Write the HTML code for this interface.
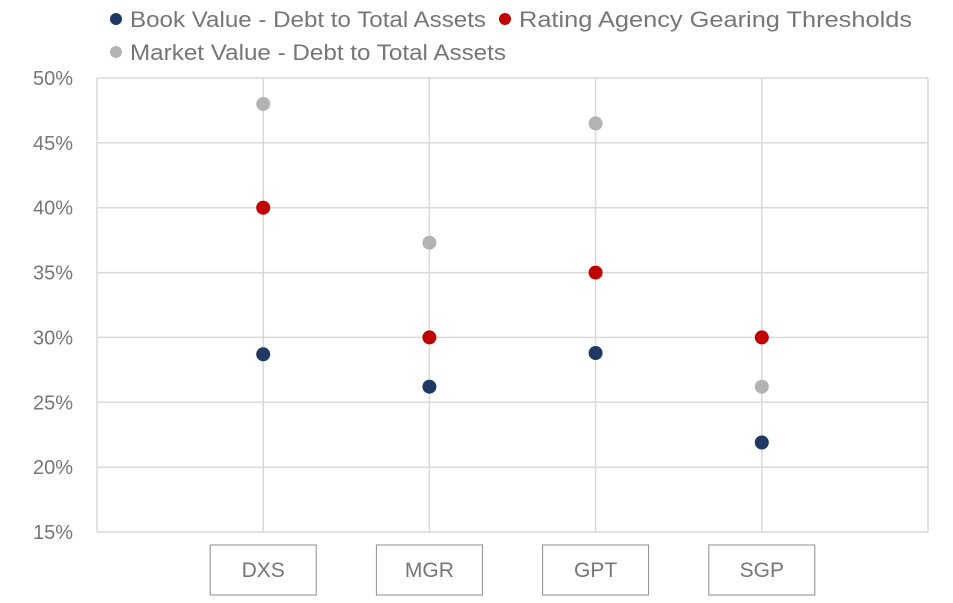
<!DOCTYPE html>
<html><head><meta charset="utf-8"><style>
body{margin:0;background:#fff;font-family:"Liberation Sans",sans-serif}
svg text{font-family:"Liberation Sans",sans-serif;fill:#767676}
</style></head><body>
<svg id="c" width="953" height="598" viewBox="0 0 953 598"></svg>
<script>
const categories=["DXS","MGR","GPT","SGP"];
const bookValues=[28.7,26.2,28.8,21.9];
const ratingThresholds=[40,30,35,30];
const marketValues=[48.0,37.3,46.5,26.2];
const yTicks=[15,20,25,30,35,40,45,50];
const seriesNames=["Book Value - Debt to Total Assets","Rating Agency Gearing Thresholds","Market Value - Debt to Total Assets"];
const NS="http://www.w3.org/2000/svg",svg=document.getElementById('c');
const L=97,R=928,T=78,B=532;
const y=v=>B-(v-15)/35*(B-T);
const x=i=>L+(i+1)*(R-L)/(categories.length+1);
function mk(t,a){const e=document.createElementNS(NS,t);for(const k in a)e.setAttribute(k,a[k]);svg.appendChild(e);return e;}
yTicks.forEach(v=>{
 const g=mk('line',{x1:L,x2:R,y1:y(v),y2:y(v),stroke:'#d9d9d9','stroke-width':1.5});
 
 
 const t=mk('text',{x:73,y:y(v)+7,'font-size':20,'text-anchor':'end'});t.textContent=v+'%';
 
 
});
[L,R].forEach(xx=>{const g=mk('line',{x1:xx,x2:xx,y1:T,y2:B,stroke:'#d9d9d9','stroke-width':1.5});
 
 });
categories.forEach((c,i)=>{
 const g=mk('line',{x1:x(i),x2:x(i),y1:T,y2:B,stroke:'#d9d9d9','stroke-width':1.5});
 
 
 const r=mk('rect',{x:x(i)-53,y:545,width:106,height:50,fill:'#fff',stroke:'#8c8c8c','stroke-width':1});
 
 
 const t=mk('text',{x:x(i),y:577,'font-size':21,'text-anchor':'middle'});t.textContent=c;
 
 
});
const series=[[marketValues,'#b3b3b3','market'],[ratingThresholds,'#c00000','rating'],[bookValues,'#1f3864','book']];
series.forEach(([vals,col,n])=>vals.forEach((v,i)=>{
 const p=mk('circle',{cx:x(i),cy:y(v),r:7,fill:col});
 
 
}));
const leg=[[116,19,'#1f3864',0,356],[505,19,'#c00000',1,393],[116,52,'#b3b3b3',2,376]];
leg.forEach(([lx,ly,col,k,w])=>{
 const m=mk('circle',{cx:lx,cy:ly,r:6,fill:col});
 
 
 const t=mk('text',{x:lx+14,y:ly+8,'font-size':22,textLength:w,lengthAdjust:'spacingAndGlyphs'});t.textContent=seriesNames[k];
 
 
});
</script>
</body></html>
